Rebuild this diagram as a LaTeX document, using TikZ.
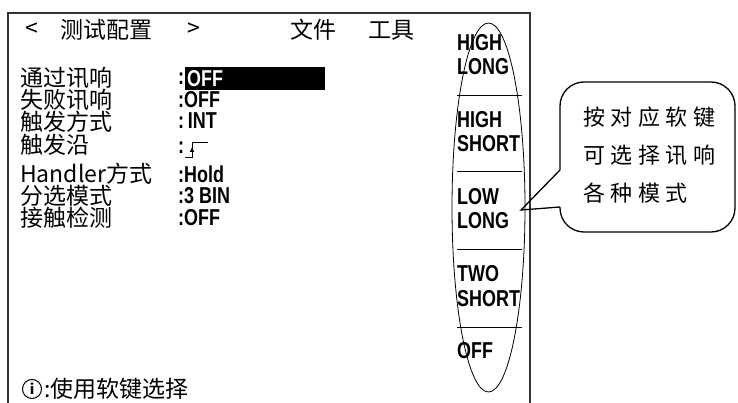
\documentclass[tikz,border=0pt]{standalone}
\usepackage{fontspec}
\setmainfont{Noto Sans CJK SC}
\newfontfamily\valfont[FakeStretch=0.78]{Liberation Sans}
\newfontfamily\tipfont[LetterSpace=25]{Noto Sans CJK SC}
\usepackage{tikz}
\usetikzlibrary{shapes.geometric,positioning,arrows.meta}

\begin{document}
\begin{tikzpicture}[
		x=1pt, y=-1pt,
		every node/.style={inner sep=0pt},
		lbl/.style={anchor=west, font=\fontsize{23}{24}\selectfont},
		val/.style={anchor=west, font=\valfont\bfseries\fontsize{23}{23}\selectfont},
		softkey/.style={anchor=west, align=left, font=\valfont\bfseries\fontsize{23}{24.5}\selectfont}
	]
  \useasboundingbox (0,0) rectangle (738,403);
  % screen frame
  \draw[line width=1.5pt, black!80] (8,403) -- (8,13) -- (530,13) -- (530,403);
  % header
  \node (prev) [lbl] at (25,30) {<};
  \node (page) [lbl] at (60,30) {测试配置};
  \node (next) [lbl] at (187,30) {>};
  \node (file) [lbl] at (290,30) {文件};
  \node (tool) [lbl] at (368,30) {工具};
  % settings
  \node (pass) [lbl] at (20,77.5) {通过讯响};
  \node (fail) [lbl] at (20,100) {失败讯响};
  \node (trig) [lbl] at (20,122) {触发方式};
  \node (edge) [lbl] at (20,145) {触发沿};
  \node (hand) [lbl] at (20,174) {Handler方式};
  \node (bin) [lbl] at (20,196) {分选模式};
  \node (cont) [lbl] at (20,218) {接触检测};
  \node (pass_col) [val] at (178,79) {:};
  \node (pass_bar) [fill=black, anchor=west, minimum width=140, minimum height=23] at (185,79) {};
  \node (pass_val) [val, text=white] at (187,79) {OFF};
  \node (fail_val) [val] at (178,100) {:OFF};
  \node (trig_val) [val] at (178,121) {:\,INT};
  \node (edge_col) [val] at (178,148) {:};
  \draw[line width=1pt] (185,158) -- (192,158) -- (192,143) -- (208,143);
  \draw[-{Latex[length=5pt,width=5pt]}, line width=1pt] (192,158) -- (192,147);
  \node (hand_val) [val] at (178,174) {:Hold};
  \node (bin_val) [val] at (178,196) {:3 BIN};
  \node (cont_val) [val] at (178,218) {:OFF};
  % soft keys
  \node (keys) [ellipse, draw, line width=0.8pt, minimum width=73, minimum height=369] at (488.5,207.5) {};
  \foreach \y in {96,172,249,327}
    \draw[line width=1pt] (457,\y) -- (522,\y);
  \node (k1) [softkey] at (457,54.5) {HIGH\\LONG};
  \node (k2) [softkey] at (457,131.5) {HIGH\\SHORT};
  \node (k3) [softkey] at (457,208.5) {LOW\\LONG};
  \node (k4) [softkey] at (457,286) {TWO\\SHORT};
  \node (k5) [softkey] at (457,351) {OFF};
  % hint
  \node (info) [circle, draw, line width=1pt, minimum size=19, font=\bfseries\fontsize{14}{14}\selectfont] at (32,389) {i};
  \node (hint) [lbl, right=2pt of info] {:使用软键选择};
  % callout
  \coordinate (tip) at (521,210);
  \draw[line width=1.3pt, rounded corners=24pt] (560,207) -- (560,232) -- (735,232) -- (735,82) -- (560,82) -- (560,170);
  \draw[line width=1.3pt, line join=miter] (560,170) -- (tip) -- (560,207);
  \node (tip_txt) [anchor=north west, align=left, font=\tipfont\fontsize{22}{38}\selectfont] at (583,107) {按对应软键\\可选择讯响\\各种模式};
\end{tikzpicture}
\end{document}
